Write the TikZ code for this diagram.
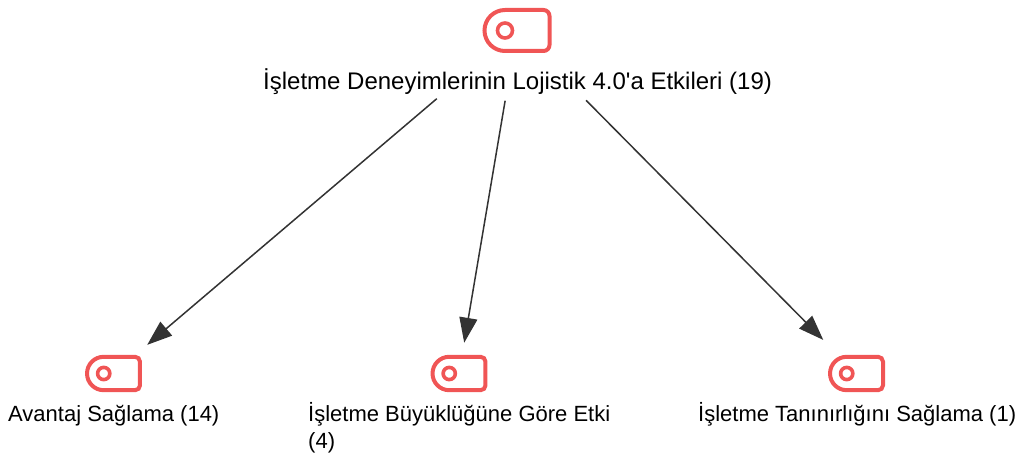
\documentclass[tikz,border=0pt]{standalone}
\usepackage{fontspec}
\setmainfont{Liberation Sans}
\usetikzlibrary{arrows.meta}
\definecolor{tagred}{HTML}{F05555}
\definecolor{linkgray}{HTML}{333333}
\tikzset{
  label/.style={anchor=base west, inner sep=0pt, align=left, text=black, font=\fontsize{22}{27}\selectfont},
  rootlabelstyle/.style={label, font=\fontsize{24}{27}\selectfont},
  tagpoint/.style={inner sep=0pt, minimum size=0pt},
  link/.style={draw=linkgray, line width=1.5pt, -{Triangle[length=25pt, width=18pt]}},
  pics/tagicon/.style={code={
    \draw[tagred, line width=4pt, y=1pt] (-12,20.5) -- (26.5,20.5) arc[start angle=90, end angle=0, radius=6]
      -- (32.5,-14.5) arc[start angle=0, end angle=-90, radius=6] -- (-12,-20.5)
      arc[start angle=270, end angle=90, radius=20.5] -- cycle;
    \draw[tagred, line width=3.6pt, y=1pt] (-12,0) circle[radius=7.5];
  }}
}
\begin{document}
\begin{tikzpicture}[x=1pt, y=-1pt]
    \useasboundingbox (0,0) rectangle (1019,454);
    \node[tagpoint] (root) at (517,30.5) {};
    \node[tagpoint] (avantaj) at (113.5,373.5) {};
    \node[tagpoint] (buyukluk) at (459,373.5) {};
    \node[tagpoint] (taninirlik) at (856.5,373.5) {};
    \pic at (root) {tagicon};
    \pic[scale=0.815] at (avantaj) {tagicon};
    \pic[scale=0.815] at (buyukluk) {tagicon};
    \pic[scale=0.815] at (taninirlik) {tagicon};
    \node[rootlabelstyle] (rootlabel) at (263,90) {İşletme Deneyimlerinin Lojistik 4.0\textquotesingle a Etkileri (19)};
    \node[label] (avantajlabel) at (8,421) {Avantaj Sağlama (14)};
    \node[label] (buyukluklabel) at (308,448) {İşletme Büyüklüğüne Göre Etki\\(4)};
    \node[label] (taninirliklabel) at (698,421) {İşletme Tanınırlığını Sağlama (1)};
    \draw[link, shorten <=105pt, shorten >=44pt] (root) -- (avantaj);
    \draw[link, shorten <=71pt, shorten >=31pt] (root) -- (buyukluk);
    \draw[link, shorten <=98pt, shorten >=47pt] (root) -- (taninirlik);
\end{tikzpicture}
\end{document}
